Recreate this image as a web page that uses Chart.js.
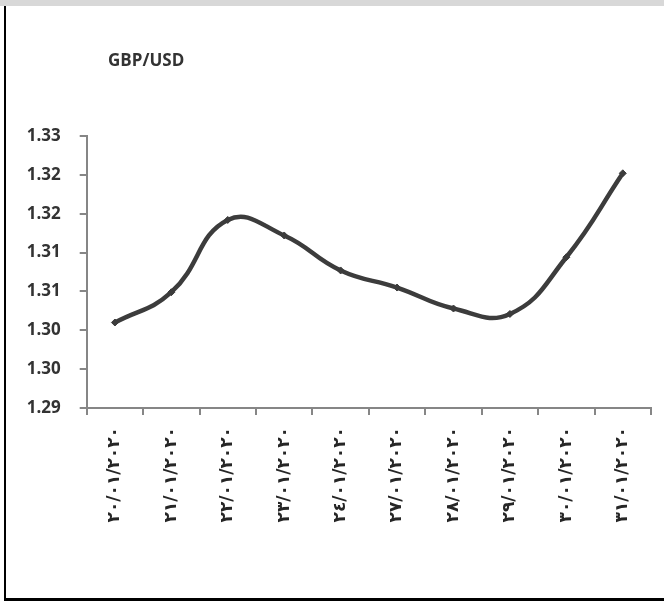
<!DOCTYPE html>
<html>
<head>
<meta charset="utf-8">
<script src="https://cdn.jsdelivr.net/npm/chart.js@4/dist/chart.umd.min.js"></script>
<style>
  html, body { margin: 0; padding: 0; background: #ffffff; }
  #frame { position: relative; width: 664px; height: 601px; overflow: hidden; }
  #topbar { position: absolute; left: 0; top: 0; width: 664px; height: 6px; background: #d8d8d8; }
  #leftrule { position: absolute; left: 4px; top: 6px; width: 2px; height: 595px; background: #000; }
  #bottomrule { position: absolute; left: 4px; top: 598px; width: 660px; height: 3px; background: #000; }
  #title { position: absolute; left: 108px; top: 51px; font-family: "Open Sans", sans-serif; font-weight: 700;
           font-size: 17px; line-height: 18px; color: #333333; white-space: nowrap; }
  #chart { position: absolute; left: 0; top: 0; }
</style>
</head>
<body>
<div id="frame">
  <div id="topbar"></div>
  <div id="leftrule"></div>
  <div id="bottomrule"></div>
  <canvas id="chart" width="664" height="601"></canvas>
  <div id="title">GBP/USD</div>
</div>
<script>
// Trading days, January 2020
const dateLabels = [
  "٢٠/٠١/٢٠٢٠", "٢١/٠١/٢٠٢٠", "٢٢/٠١/٢٠٢٠", "٢٣/٠١/٢٠٢٠", "٢٤/٠١/٢٠٢٠",
  "٢٧/٠١/٢٠٢٠", "٢٨/٠١/٢٠٢٠", "٢٩/٠١/٢٠٢٠", "٣٠/٠١/٢٠٢٠", "٣١/٠١/٢٠٢٠"
];
// GBP/USD closing rates
const gbpUsd = [1.3010, 1.3049, 1.3142, 1.3122, 1.3077, 1.3055, 1.3028, 1.3021, 1.3094, 1.3202];
// Value axis: range, step and the printed labels (two decimals)
const yMin = 1.29;
const yMax = 1.325;
const yStep = 0.005;
const yTickLabels = ["1.29", "1.30", "1.30", "1.31", "1.31", "1.32", "1.32", "1.33"];

const axisGray = '#868686';
const lineColor = '#3c3c3c';

new Chart(document.getElementById('chart'), {
  type: 'line',
  data: {
    labels: dateLabels,
    datasets: [{
      data: gbpUsd,
      borderColor: lineColor,
      backgroundColor: lineColor,
      borderWidth: 4.5,
      tension: 0.45,
      pointStyle: 'rectRot',
      pointRadius: 3.5,
      pointBorderWidth: 1,
      pointBackgroundColor: lineColor,
      pointBorderColor: lineColor,
      fill: false
    }]
  },
  options: {
    responsive: false,
    animation: false,
    events: [],
    layout: { padding: { left: 6, right: 13, top: 136, bottom: 63 } },
    plugins: { legend: { display: false }, tooltip: { enabled: false }, title: { display: false } },
    scales: {
      x: {
        type: 'category',
        offset: true,
        grid: { offset: true, drawOnChartArea: false, drawTicks: true, tickLength: 7, color: axisGray, lineWidth: 2 },
        border: { display: true, color: axisGray, width: 2 },
        ticks: {
          autoSkip: false,
          maxRotation: 90,
          minRotation: 90,
          padding: 12,
          color: '#262626',
          font: { family: "'DejaVu Sans', sans-serif", size: 17, weight: 'bold' }
        },
        afterFit: (scale) => { scale.height = 130; }
      },
      y: {
        min: yMin,
        max: yMax,
        grid: { drawOnChartArea: false, drawTicks: true, tickLength: 7, color: axisGray, lineWidth: 2 },
        border: { display: true, color: axisGray, width: 2 },
        ticks: {
          stepSize: yStep,
          padding: 19,
          color: '#333333',
          font: { family: "'Open Sans', sans-serif", size: 17, weight: 'bold' },
          callback: (value, index) => yTickLabels[index]
        },
        afterFit: (scale) => { scale.width = 80.7; }
      }
    }
  }
});
</script>
</body>
</html>
